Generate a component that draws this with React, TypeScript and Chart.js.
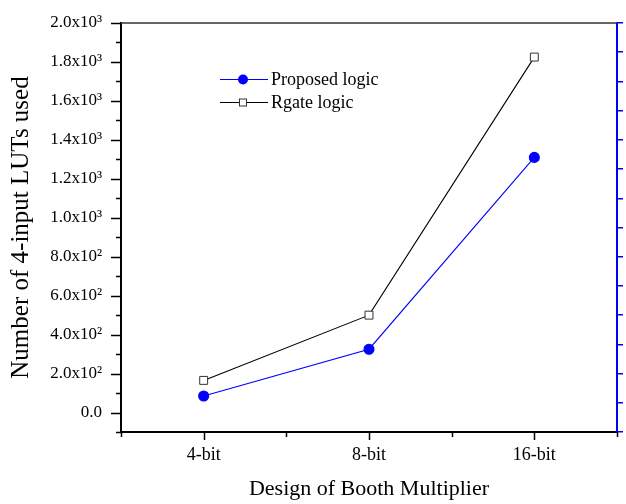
import React, { useEffect, useRef } from 'react';
import { Chart, registerables } from 'chart.js';

Chart.register(...registerables);

const categories = ['4-bit', '8-bit', '16-bit'];
const seriesNames = ['Proposed logic', 'Rgate logic'];
const proposedLogic = [85, 325, 1310];
const rgateLogic = [165, 500, 1825];
const yTickValues = [0, 200, 400, 600, 800, 1000, 1200, 1400, 1600, 1800, 2000];
const yTickLabels = ['0.0', '2.0x10²', '4.0x10²', '6.0x10²', '8.0x10²', '1.0x10³', '1.2x10³', '1.4x10³', '1.6x10³', '1.8x10³', '2.0x10³'];
const xTitle = 'Design of Booth Multiplier';
const yTitle = 'Number of 4-input LUTs used';

const FONT = "'Liberation Serif', 'Times New Roman', serif";
const BLUE = '#0000ff';

const decorPlugin = {
  id: 'decor',
  afterDraw(chart: any) {
    const { ctx, chartArea, scales } = chart;
    const xs = scales.x;
    const ys = scales.y;
    ctx.save();
    // top border
    ctx.strokeStyle = '#333';
    ctx.lineWidth = 1.5;
    ctx.beginPath();
    ctx.moveTo(chartArea.left, chartArea.top);
    ctx.lineTo(chartArea.right, chartArea.top);
    ctx.stroke();
    // left ticks
    ctx.strokeStyle = '#000';
    ctx.lineWidth = 1.5;
    for (let v = ys.min; v <= ys.max + 0.001; v += 100) {
      const y = Math.round(ys.getPixelForValue(v)) + 0.5;
      const len = v % 200 === 0 ? 10 : 5;
      ctx.beginPath();
      ctx.moveTo(chartArea.left - len, y);
      ctx.lineTo(chartArea.left, y);
      ctx.stroke();
    }
    // bottom ticks
    for (let v = xs.min; v <= xs.max + 0.001; v += 0.5) {
      const x = Math.round(xs.getPixelForValue(v)) + 0.5;
      const len = Number.isInteger(v) ? 8 : 5;
      ctx.beginPath();
      ctx.moveTo(x, chartArea.bottom);
      ctx.lineTo(x, chartArea.bottom + len);
      ctx.stroke();
    }
    // legend
    const ds = chart.data.datasets;
    const lx0 = 220, lx1 = 268, mx = 243, tx = 271;
    const rows = [79, 102];
    ctx.font = `18px ${FONT}`;
    ctx.textBaseline = 'middle';
    ctx.textAlign = 'left';
    ds.forEach((d: any, i: number) => {
      const y = rows[i];
      ctx.strokeStyle = d.borderColor;
      ctx.lineWidth = 1;
      ctx.beginPath();
      ctx.moveTo(lx0, y + 0.5);
      ctx.lineTo(lx1, y + 0.5);
      ctx.stroke();
      if (d.pointStyle === 'circle') {
        ctx.fillStyle = d.pointBackgroundColor;
        ctx.beginPath();
        ctx.arc(mx, y + 0.5, 5, 0, Math.PI * 2);
        ctx.fill();
      } else {
        ctx.fillStyle = '#fff';
        ctx.strokeStyle = '#333';
        ctx.fillRect(mx - 3.5, y - 3, 7, 7);
        ctx.strokeRect(mx - 3.5, y - 3, 7, 7);
      }
      ctx.fillStyle = '#000';
      ctx.fillText(d.label, tx, y + 1);
    });
    ctx.restore();
  },
};

export default function App() {
  const ref = useRef<HTMLCanvasElement>(null);
  useEffect(() => {
    document.body.style.margin = '0';
    const canvas = ref.current!;
    const chart = new Chart(canvas, {
      type: 'line',
      data: {
        datasets: [
          {
            label: seriesNames[0],
            data: categories.map((_, i) => ({ x: i + 1, y: proposedLogic[i] })),
            borderColor: BLUE,
            backgroundColor: BLUE,
            pointBackgroundColor: BLUE,
            pointBorderColor: BLUE,
            pointStyle: 'circle',
            pointRadius: 5,
            borderWidth: 1.1,
            tension: 0,
          },
          {
            label: seriesNames[1],
            data: categories.map((_, i) => ({ x: i + 1, y: rgateLogic[i] })),
            borderColor: '#000',
            backgroundColor: '#fff',
            pointBackgroundColor: '#fff',
            pointBorderColor: '#333',
            pointBorderWidth: 1,
            pointStyle: 'rect',
            pointRadius: 5.6,
            borderWidth: 1.1,
            tension: 0,
          },
        ],
      },
      options: {
        animation: false,
        responsive: false,
        devicePixelRatio: 1,
        layout: { autoPadding: false, padding: { top: 23, left: 0, right: 0, bottom: 0 } },
        plugins: { legend: { display: false }, tooltip: { enabled: false } },
        scales: {
          x: {
            type: 'linear',
            min: 0.5,
            max: 3.5,
            afterFit: (s: any) => { s.height = 72; s.paddingLeft = 0; s.paddingRight = 0; },
            ticks: {
              stepSize: 0.5,
              autoSkip: false,
              maxRotation: 0,
              padding: 12,
              color: '#000',
              font: { family: FONT, size: 18 },
              callback: (v: any) => (Number.isInteger(v) ? categories[v - 1] : ''),
            },
            grid: { display: true, drawOnChartArea: false, drawTicks: false },
            border: { display: true, color: '#000', width: 2 },
            title: { display: true, text: xTitle, color: '#000', font: { family: FONT, size: 22 }, padding: { top: 2, bottom: 2 } },
          },
          y: {
            type: 'linear',
            position: 'left',
            min: -100,
            max: 2000,
            afterFit: (s: any) => { s.width = 121; s.paddingTop = 0; s.paddingBottom = 0; },
            ticks: {
              stepSize: 100,
              autoSkip: false,
              padding: 19,
              color: '#000',
              font: { family: FONT, size: 17 },
              callback: (v: any) => {
                const i = yTickValues.indexOf(v);
                return i >= 0 ? yTickLabels[i] : '';
              },
            },
            grid: { display: true, drawOnChartArea: false, drawTicks: false },
            border: { display: true, color: '#000', width: 2 },
            title: { display: true, text: yTitle, color: '#000', font: { family: FONT, size: 25 }, padding: { top: 6, bottom: 0 } },
          },
          y2: {
            type: 'linear',
            position: 'right',
            min: -100,
            max: 2000,
            afterFit: (s: any) => { s.width = 9; s.paddingTop = 0; s.paddingBottom = 0; },
            ticks: { stepSize: 150, display: false, autoSkip: false },
            grid: { display: true, drawOnChartArea: false, drawTicks: true, tickLength: 6, color: BLUE, lineWidth: 1.5 },
            border: { display: true, color: BLUE, width: 2 },
          },
        },
      },
      plugins: [decorPlugin],
    } as any);
    return () => chart.destroy();
  }, []);
  return (
    <div style={{ width: 626, height: 504 }}>
      <canvas ref={ref} width={626} height={504} />
    </div>
  );
}
